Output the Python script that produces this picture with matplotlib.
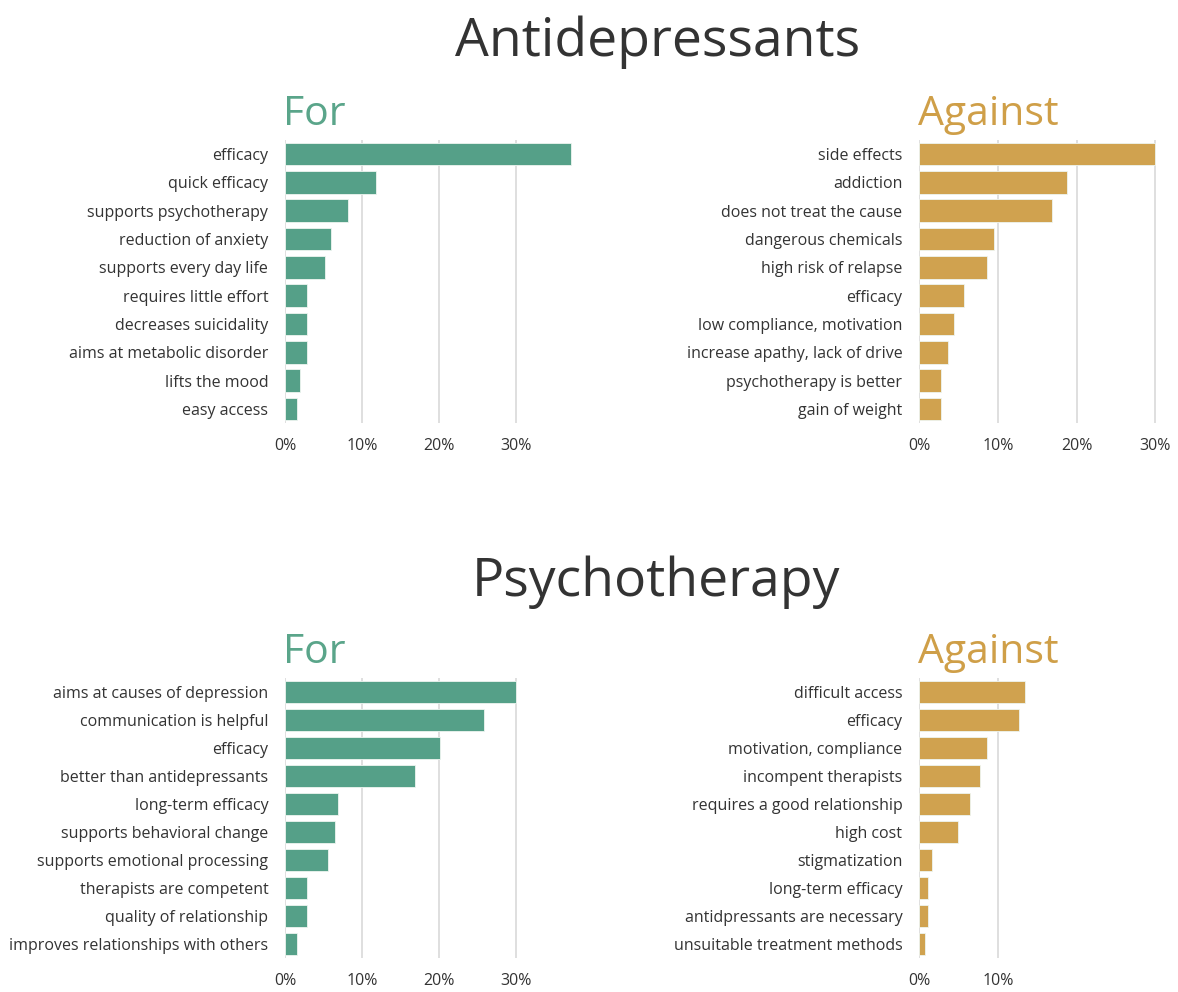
import matplotlib.pyplot as plt
from matplotlib.ticker import FuncFormatter

plt.rcParams['font.family'] = ['Open Sans', 'DejaVu Sans']

# data (percent of mentions)
ad_for_labels = ['efficacy', 'quick efficacy', 'supports psychotherapy', 'reduction of anxiety',
                 'supports every day life', 'requires little effort', 'decreases suicidality',
                 'aims at metabolic disorder', 'lifts the mood', 'easy access']
ad_for_values = [37.1, 11.8, 8.2, 6.0, 5.2, 2.8, 2.8, 2.8, 2.0, 1.6]

ad_against_labels = ['side effects', 'addiction', 'does not treat the cause', 'dangerous chemicals',
                     'high risk of relapse', 'efficacy', 'low compliance, motivation',
                     'increase apathy, lack of drive', 'psychotherapy is better', 'gain of weight']
ad_against_values = [30.0, 18.8, 16.9, 9.5, 8.6, 5.7, 4.5, 3.7, 2.8, 2.8]

pt_for_labels = ['aims at causes of depression', 'communication is helpful', 'efficacy',
                 'better than antidepressants', 'long-term efficacy', 'supports behavioral change',
                 'supports emotional processing', 'therapists are competent',
                 'quality of relationship', 'improves relationships with others']
pt_for_values = [30.0, 25.8, 20.1, 16.8, 6.9, 6.5, 5.6, 2.8, 2.8, 1.6]

pt_against_labels = ['difficult access', 'efficacy', 'motivation, compliance', 'incompent therapists',
                     'requires a good relationship', 'high cost', 'stigmatization',
                     'long-term efficacy', 'antidpressants are necessary', 'unsuitable treatment methods']
pt_against_values = [13.5, 12.7, 8.6, 7.7, 6.5, 4.9, 1.6, 1.2, 1.2, 0.7]

green = '#55a088'
gold = '#d0a24f'
text_color = '#333333'

W, H = 1178, 992
fig = plt.figure(figsize=(W / 100, H / 100), dpi=100)


def px_axes(left, top, right, bottom):
    return fig.add_axes([left / W, 1 - bottom / H, (right - left) / W, (bottom - top) / H])


def panel(ax, labels, values, color, xmax, ticks):
    y = range(len(labels))
    ax.barh(y, values, height=0.8, color=color, edgecolor='#eef5f0', linewidth=0.6, zorder=2)
    ax.set_yticks(list(y))
    ax.set_yticklabels(labels)
    ax.set_ylim(len(labels) - 0.5, -0.5)
    ax.set_xlim(0, xmax)
    ax.set_xticks(ticks)
    ax.xaxis.set_major_formatter(FuncFormatter(lambda v, p: f'{v:.0f}%'))
    ax.grid(axis='x', color='#d9d9d9', linewidth=1.2, zorder=0)
    for s in ax.spines.values():
        s.set_visible(False)
    ax.tick_params(axis='both', length=0, labelsize=11.5, labelcolor=text_color)
    ax.tick_params(axis='y', pad=12)
    ax.tick_params(axis='x', pad=11)


ax1 = px_axes(285, 140, 572, 423)
panel(ax1, ad_for_labels, ad_for_values, green, 37.2, [0, 10, 20, 30])
ax2 = px_axes(919, 140, 1157, 423)
panel(ax2, ad_against_labels, ad_against_values, gold, 30.2, [0, 10, 20, 30])
ax3 = px_axes(285, 678, 572, 958)
panel(ax3, pt_for_labels, pt_for_values, green, 37.2, [0, 10, 20, 30])
ax4 = px_axes(919, 678, 1157, 958)
panel(ax4, pt_against_labels, pt_against_values, gold, 30.2, [0, 10])

# headings
fig.text(658 / W, 1 - 56 / H, 'Antidepressants', ha='center', va='baseline', fontsize=38.5, color=text_color)
fig.text(656 / W, 1 - 596 / H, 'Psychotherapy', ha='center', va='baseline', fontsize=38.5, color=text_color)
for top in (125, 663):
    fig.text(283 / W, 1 - top / H, 'For', ha='left', va='baseline', fontsize=29.5, color='#5aa58a')
    fig.text(918 / W, 1 - top / H, 'Against', ha='left', va='baseline', fontsize=29.5, color='#cf9f48')

fig.savefig('out.png', dpi=100, facecolor='white')
